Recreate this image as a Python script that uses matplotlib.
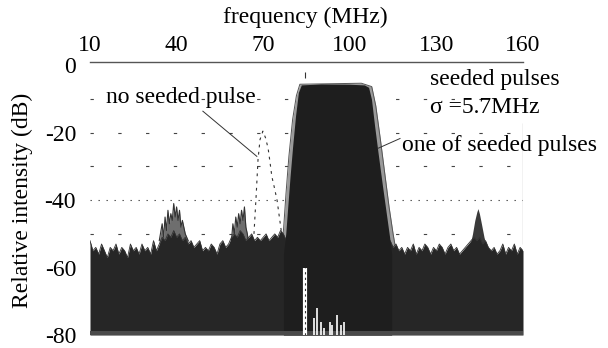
import matplotlib
matplotlib.use("Agg")
import matplotlib.pyplot as plt
from matplotlib import font_manager

names = {f.name for f in font_manager.fontManager.ttflist}
serif_pref = [n for n in ['Liberation Serif', 'Times New Roman', 'Nimbus Roman',
                          'DejaVu Serif'] if n in names]
plt.rcParams['font.family'] = 'serif'
plt.rcParams['font.serif'] = serif_pref + ['DejaVu Serif']

# ---------------- data ----------------
x_ticks = [10, 40, 70, 100, 130, 160]
y_ticks = [0, -20, -40, -60, -80]
y_tick_labels = ["0", "-20", "-40", "-60", "-80"]

# noise floor: upper envelope, 1 MHz steps from 10 to 160 MHz
floor_freq = list(range(10, 161))
floor_top = [
    -52, -55, -54, -56, -53, -55, -57, -54, -55, -53,
    -56, -54, -55, -57, -53, -55, -54, -56, -53, -55,
    -54, -56, -52, -55, -53, -51, -52, -50, -51, -49,
    -51, -50, -52, -51, -53, -52, -54, -53, -52, -55,
    -54, -55, -53, -54, -56, -53, -52, -54, -53, -51,
    -50, -51, -49, -50, -52, -51, -50, -52, -51, -52,
    -51, -50, -52, -51, -50, -51, -49, -50, -52, -52,
    -53, -53, -53, -53, -53, -53, -53, -53, -53, -53,
    -53, -53, -53, -53, -53, -53, -53, -53, -53, -53,
    -53, -53, -53, -53, -53, -53, -53, -53, -53, -53,
    -52, -51, -52, -53, -52, -54, -53, -55, -54, -56,
    -54, -55, -53, -56, -54, -55, -53, -54, -56, -54,
    -55, -53, -54, -56, -54, -53, -55, -54, -56, -55,
    -54, -53, -52, -51, -52, -51, -53, -52, -54, -55,
    -54, -56, -55, -53, -56, -54, -55, -53, -56, -54,
    -55,
]

# seeded pulses: main block (dark) and outer traces (grey fringe)
block_freq = [77.0, 77.8, 78.5, 79.3, 80.2, 81.2, 82.2, 83.2, 90.0, 100.0,
              105.0, 106.5, 107.5, 108.6, 109.8, 111.2, 112.5, 113.8, 114.5]
block_top = [-56, -50, -42, -33, -24, -15, -8, -5.8, -5.5, -5.6,
             -5.8, -6.5, -10, -18, -26, -35, -43, -51, -56]
fringe_freq = [76.3, 77.1, 77.9, 78.9, 80.2, 81.5, 82.7, 104.0, 107.6,
               109.0, 110.6, 112.1, 113.6, 115.0, 116.2]
fringe_top = [-56, -48, -38, -27, -16, -9, -5.6, -5.3, -6.3,
              -12, -22, -32, -42, -50, -56]

# side peaks (overlaid traces)
peak1_freq = [34, 35, 35.5, 36, 36.5, 37, 37.5, 38, 38.5, 39, 39.5, 40,
              40.5, 41, 41.5, 42, 43, 44]
peak1_db = [-52, -47, -51, -45, -49, -43, -47, -44, -46, -41, -45, -42,
            -46, -43, -48, -46, -50, -52]
peak2_freq = [59, 59.5, 60, 60.5, 61, 61.5, 62, 62.5, 63, 63.5, 64, 64.5, 65]
peak2_db = [-52, -47, -50, -45, -48, -44, -47, -43, -46, -42, -48, -50, -53]
peak3_freq = [141.5, 142.5, 143.3, 144.0, 144.4, 144.9, 145.6, 146.5, 147.5]
peak3_db = [-54, -50, -46, -43.5, -42.5, -44, -47, -51, -54]

# spectrum without seeded pulse (dashed)
noseed_freq = [66.8, 67.6, 68.2, 68.9, 69.9, 70.8, 71.7, 72.4, 73.0, 73.8,
               74.8, 75.6, 76.4]
noseed_db = [-50, -38, -28, -22, -19.5, -21.5, -24.6, -29, -33, -36,
             -40, -45, -50]

# white gaps near the bottom
gap_freq = [87.5, 88.5, 90.0, 91.0, 93.0, 94.0, 95.5, 97.0, 98.0]
gap_top = [-75, -72, -76, -78, -76, -77, -74, -77, -76]
marker_freq = 84.6

grid_levels = [-10, -20, -30, -40, -50]

# ---------------- figure ----------------
W, H = 608, 348
fig = plt.figure(figsize=(W / 100, H / 100), dpi=100)
ax = fig.add_axes([90 / W, 1 - 335 / H, 433 / W, 273 / H])
ax.set_xlim(10, 160)
ax.set_ylim(-80, 1)

for lvl in grid_levels:
    if lvl == -40:
        ls = (0, (1.2, 6))
    else:
        ls = (0, (3, 22))
    ax.axhline(lvl, color='#444444', lw=0.8, ls=ls, zorder=1)

# grey traces behind the noise floor
ax.fill_between(fringe_freq, -60, fringe_top, color='#9a9a9a', lw=0, zorder=1.6)
ax.plot(fringe_freq, fringe_top, color='#555555', lw=0.7, zorder=1.7)
ax.fill_between(peak1_freq, -60, peak1_db, color='#6e6e6e', lw=0, zorder=1.6)
ax.plot(peak1_freq, peak1_db, color='#333333', lw=0.8, zorder=1.7)
ax.fill_between(peak2_freq, -60, peak2_db, color='#6e6e6e', lw=0, zorder=1.6)
ax.plot(peak2_freq, peak2_db, color='#333333', lw=0.8, zorder=1.7)
ax.fill_between(peak3_freq, -60, peak3_db, color='#3a3a3a', lw=0, zorder=1.6)

ax.fill_between(floor_freq, -80, floor_top, color='#262626', lw=0, zorder=2)
ax.plot(floor_freq, floor_top, color='#333333', lw=0.6, zorder=2)
ax.fill_between(block_freq, -80, block_top, color='#1e1e1e', lw=0, zorder=4)

ax.plot(noseed_freq, noseed_db, color='#333333', lw=0.8,
        ls=(0, (2.5, 4)), zorder=3)

# bottom speckled band and white gaps
ax.fill_between([10, 160], -80, -78.8, color='#4a4a4a', lw=0, zorder=5)
ax.vlines(gap_freq, -80, gap_top, color='white', lw=1.2, zorder=6)
ax.vlines([marker_freq], -80, -60, color='white', lw=3.0, zorder=6)
ax.vlines([marker_freq], -80, -60, color='#333333', lw=0.8,
          linestyles=(0, (2, 3)), zorder=7)
ax.vlines([marker_freq], -3.8, -2.0, color='#333333', lw=0.8, zorder=7)

# right frame fragment
ax.vlines([160], -53, -17, color='#222222', lw=0.8, zorder=6)

# leader lines
ax.plot([49.1, 67.8], [-13.6, -27.0], color='#333333', lw=0.7, zorder=8)
ax.plot([117.4, 109.8], [-21.7, -24.6], color='#333333', lw=0.7, zorder=8)

# axes styling
for s in ['left', 'right', 'bottom']:
    ax.spines[s].set_visible(False)
ax.spines['top'].set_color('#555555')
ax.spines['top'].set_linewidth(1.0)
ax.xaxis.tick_top()
ax.set_xticks(x_ticks)
ax.set_xticklabels([str(v) for v in x_ticks])
ax.set_yticks(y_ticks)
ax.set_yticklabels(y_tick_labels)
ax.tick_params(axis='both', length=0, labelsize=17)
ax.tick_params(axis='x', pad=4)
ax.tick_params(axis='y', pad=10)

fs = 17
fig.text(305 / W, 1 - 17 / H, 'frequency (MHz)', ha='center', va='center', fontsize=fs)
fig.text(22 / W, 1 - 200 / H, 'Relative intensity (dB)', ha='center', va='center',
         rotation=90, fontsize=fs)
fig.text(106 / W, 1 - 97 / H, 'no seeded pulse', ha='left', va='center', fontsize=fs)
fig.text(430 / W, 1 - 80 / H, 'seeded pulses', ha='left', va='center', fontsize=fs)
fig.text(430 / W, 1 - 108 / H, '\u03c3 =5.7MHz', ha='left', va='center', fontsize=fs)
fig.text(402 / W, 1 - 145 / H, 'one of seeded pulses', ha='left', va='center', fontsize=fs)

fig.savefig('out.png', dpi=100)
